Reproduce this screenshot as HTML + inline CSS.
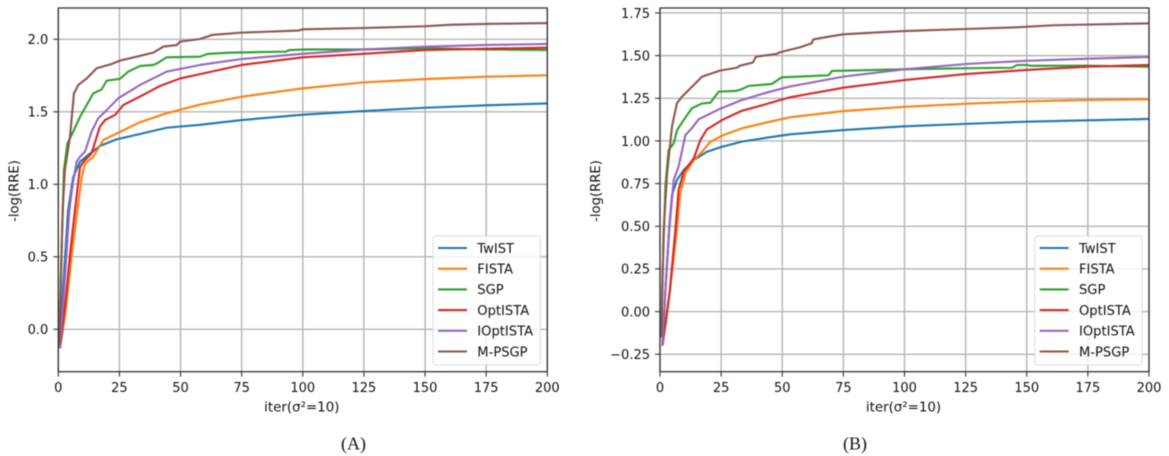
<!DOCTYPE html>
<html>
<head>
<meta charset="utf-8">
<style>
html,body{margin:0;padding:0;background:#fff;width:1169px;height:456px;overflow:hidden}
svg{display:block;filter:blur(0.5px)}
text{font-family:"DejaVu Sans","Liberation Sans",sans-serif;fill:#111}
</style>
</head>
<body>
<svg id="figure" width="1169" height="456" viewBox="0 0 1169 456" xmlns="http://www.w3.org/2000/svg"></svg>
<script>
const seriesNames = ['TwIST','FISTA','SGP','OptISTA','IOptISTA','M-PSGP'];
const seriesColors = ['#1f77b4','#ff7f0e','#2ca02c','#d62728','#9467bd','#8c564b'];
const xTickLabels = [0,25,50,75,100,125,150,175,200];
const yTickLabelsA = ['0.0','0.5','1.0','1.5','2.0'];
const yTicksA = [0,0.5,1,1.5,2];
const yTickLabelsB = ['\u22120.25','0.00','0.25','0.50','0.75','1.00','1.25','1.50','1.75'];
const yTicksB = [-0.25,0,0.25,0.5,0.75,1,1.25,1.5,1.75];

const iterA_TwIST = [0.7,2,4,6.1,8.9,13,17,23.8,33.4,44.3,58,75,100,125,150,175,200];
const valsA_TwIST = [-0.13,0.3,0.82,1.05,1.156,1.213,1.264,1.31,1.347,1.39,1.41,1.443,1.48,1.505,1.528,1.545,1.558];
const iterA_FISTA = [0.7,3,5.4,7.8,9.6,10.9,14.3,18.4,23.8,33.4,44.3,58,75,100,125,150,175,200];
const valsA_FISTA = [-0.13,0.12,0.5,0.82,1.05,1.143,1.19,1.305,1.35,1.428,1.49,1.55,1.604,1.662,1.703,1.726,1.742,1.752];
const iterA_SGP = [0.5,1,2.3,3.7,6.1,8.9,11.6,14.3,17.7,19.8,25.2,28.6,33.4,38.9,41,44.3,58,61,70,93,94.7,101.5,125,150,175,200];
const valsA_SGP = [-0.1,0.35,1.098,1.28,1.363,1.466,1.547,1.627,1.654,1.715,1.727,1.777,1.816,1.823,1.84,1.876,1.88,1.899,1.908,1.915,1.926,1.93,1.93,1.938,1.93,1.926];
const iterA_OptISTA = [0.7,3,5,6.8,8.9,10.3,13.6,17,19.1,23.2,26.6,33.4,41.6,49.8,58,75,100,125,150,175,200];
const valsA_OptISTA = [-0.13,0.2,0.55,0.82,1.12,1.156,1.213,1.397,1.443,1.478,1.547,1.605,1.678,1.73,1.76,1.823,1.876,1.9,1.926,1.935,1.942];
const iterA_IOptISTA = [0.7,2.5,4.5,5.9,7.5,8.9,10.9,13.6,16.3,19.8,24.5,33.4,44.3,58,75,100,125,150,175,200];
const valsA_IOptISTA = [-0.13,0.3,0.82,1.0,1.156,1.19,1.225,1.363,1.455,1.512,1.593,1.685,1.777,1.823,1.864,1.9,1.93,1.949,1.961,1.968];
const iterA_MPSGP = [0.5,1,1.8,2.7,4.8,6.4,8.2,11.6,15.7,21.8,25.2,32,38.9,43,48.4,49.8,58,62.8,75,98,100,125,150,160,175,200];
const valsA_MPSGP = [-0.1,0.3,0.822,1.098,1.33,1.627,1.685,1.73,1.8,1.83,1.853,1.88,1.908,1.95,1.96,1.984,2.002,2.03,2.046,2.06,2.069,2.078,2.09,2.1,2.106,2.112];

const iterB_TwIST = [1,2.2,3.8,4.9,6.9,9.7,13.8,19.2,25.4,33.5,44,53.2,75,100,125,150,175,200];
const valsB_TwIST = [-0.2,0.12,0.5,0.683,0.771,0.83,0.888,0.937,0.966,0.996,1.02,1.039,1.064,1.086,1.1,1.113,1.121,1.129];
const iterB_FISTA = [1,3,5.5,6.9,8.3,10.4,13.8,17.2,20.6,26,33.5,44,53.2,75,100,125,150,175,200];
const valsB_FISTA = [-0.2,0,0.3,0.479,0.693,0.81,0.888,0.937,0.995,1.035,1.074,1.11,1.139,1.175,1.2,1.218,1.232,1.24,1.244];
const iterB_SGP = [0.5,1,2.2,3.5,5.6,7,9.7,13,17.2,20.6,24,30.8,33.5,36.1,45.7,49.8,57.3,69,70.3,75,100,125,144,146,150,152,175,200];
const valsB_SGP = [-0.15,0.2,0.73,0.947,0.986,1.064,1.123,1.191,1.22,1.224,1.289,1.293,1.303,1.322,1.334,1.373,1.377,1.385,1.41,1.412,1.42,1.426,1.429,1.445,1.445,1.44,1.441,1.435];
const iterB_OptISTA = [1,4,6.3,7.6,9.7,13.8,16.5,19.2,25.4,33.5,39.5,53.2,75,100,125,150,175,200];
const valsB_OptISTA = [-0.2,0.12,0.479,0.712,0.82,0.898,1.005,1.068,1.123,1.177,1.2,1.256,1.312,1.357,1.392,1.416,1.435,1.445];
const iterB_IOptISTA = [1,2.5,3.8,5.6,7.6,10.4,13,15.8,24,33.5,44,53.2,75,100,125,150,175,200];
const valsB_IOptISTA = [-0.2,0.2,0.48,0.771,0.85,1.035,1.074,1.127,1.185,1.24,1.285,1.319,1.377,1.42,1.451,1.47,1.482,1.492];
const iterB_MPSGP = [0.5,1,1.5,2.9,4.9,6.9,9,13.8,17.2,24.5,31.4,32.7,37.9,39.3,47.7,49,57.3,62,62.7,69,75,88.6,100,125,146,161,200];
const valsB_MPSGP = [-0.15,0.15,0.479,0.81,1.084,1.22,1.26,1.328,1.377,1.412,1.429,1.441,1.459,1.494,1.51,1.52,1.549,1.572,1.595,1.611,1.625,1.636,1.644,1.656,1.666,1.678,1.689];

const seriesA = [[iterA_TwIST,valsA_TwIST],[iterA_FISTA,valsA_FISTA],[iterA_SGP,valsA_SGP],[iterA_OptISTA,valsA_OptISTA],[iterA_IOptISTA,valsA_IOptISTA],[iterA_MPSGP,valsA_MPSGP]];
const seriesB = [[iterB_TwIST,valsB_TwIST],[iterB_FISTA,valsB_FISTA],[iterB_SGP,valsB_SGP],[iterB_OptISTA,valsB_OptISTA],[iterB_IOptISTA,valsB_IOptISTA],[iterB_MPSGP,valsB_MPSGP]];

const NS = 'http://www.w3.org/2000/svg';
const fig = document.getElementById('figure');

function make(parent, tag, attrs, content) {
  const el = document.createElementNS(NS, tag);
  for (const k in attrs) el.setAttribute(k, attrs[k]);
  if (content !== undefined) el.textContent = content;
  parent.appendChild(el);
  return el;
}

function drawPanel(cfg) {
  const g = make(fig, 'g', {});
  
  
  const top = 8, bottom = 371.7;
  const sx = v => cfg.x0 + v * 2.445;
  const sy = v => cfg.yZero - v * cfg.yScale;
  const right = sx(200);
  const clipId = 'clip-' + cfg.id;
  const defs = make(g, 'defs', {});
  const cp = make(defs, 'clipPath', {id: clipId});
  make(cp, 'rect', {x: cfg.x0, y: top, width: right - cfg.x0, height: bottom - top});

  xTickLabels.forEach(t => {
    const gl = make(g, 'line', {x1: sx(t), x2: sx(t), y1: top, y2: bottom, stroke: '#b4b4b4', 'stroke-width': 1.4});
    
    
    const tk = make(g, 'line', {x1: sx(t), x2: sx(t), y1: bottom, y2: bottom + 5, stroke: '#333', 'stroke-width': 1.1});
    
    
    const lb = make(g, 'text', {x: sx(t), y: 391.9, 'text-anchor': 'middle', 'font-size': 13}, String(t));
    
    
  });
  cfg.yTicks.forEach((t, i) => {
    const gl = make(g, 'line', {x1: cfg.x0, x2: right, y1: sy(t), y2: sy(t), stroke: '#b4b4b4', 'stroke-width': 1.4});
    
    
    const tk = make(g, 'line', {x1: cfg.x0 - 5, x2: cfg.x0, y1: sy(t), y2: sy(t), stroke: '#333', 'stroke-width': 1.1});
    
    
    const lb = make(g, 'text', {x: cfg.x0 - 10, y: sy(t) + 4.8, 'text-anchor': 'end', 'font-size': 13}, cfg.yLabels[i]);
    
    
  });

  const lines = make(g, 'g', {'clip-path': 'url(#' + clipId + ')'});
  cfg.series.forEach((s, i) => {
    const d = s[0].map((x, j) => (j ? 'L' : 'M') + sx(x).toFixed(2) + ' ' + sy(s[1][j]).toFixed(2)).join('');
    const p = make(lines, 'path', {d: d, fill: 'none', stroke: seriesColors[i], 'stroke-width': 2.1, 'stroke-linejoin': 'round'});
    
    
  });

  const frame = make(g, 'rect', {x: cfg.x0, y: top, width: right - cfg.x0, height: bottom - top, fill: 'none', stroke: '#333', 'stroke-width': 1.3});
  
  

  const lg = make(g, 'g', {});
  
  
  const lx = right - 114.3;
  const box = make(lg, 'rect', {x: lx, y: 236, width: 107.3, height: 129, rx: 3, fill: '#fff', 'fill-opacity': 0.82, stroke: '#dcdcdc', 'stroke-width': 1});
  
  
  seriesNames.forEach((n, i) => {
    const y = 248 + i * 20.7;
    const ln = make(lg, 'line', {x1: lx + 5, x2: lx + 34, y1: y, y2: y, stroke: seriesColors[i], 'stroke-width': 2.1});
    
    
    const tx = make(lg, 'text', {x: lx + 44.3, y: y + 4.8, 'font-size': 13.1}, n);
    
    
  });

  const xl = make(g, 'text', {x: (cfg.x0 + right) / 2 - 1, y: 411.5, 'text-anchor': 'middle', 'font-size': 13.4}, 'iter(\u03C3\u00B2=10)');
  
  
  const yl = make(g, 'text', {x: 0, y: 0, 'text-anchor': 'middle', 'font-size': 13.2, transform: 'translate(' + cfg.yTitleX + ' 191) rotate(-90)'}, '-log(RRE)');
  
  
  const cap = make(g, 'text', {x: cfg.capX, y: 449.5, 'text-anchor': 'middle', 'font-size': 18, style: 'font-family:"Liberation Serif",serif;fill:#111'}, cfg.caption);
  
  
}

drawPanel({id:'a', x0:58.3, yZero:329.3, yScale:145, yTicks:yTicksA, yLabels:yTickLabelsA, series:seriesA, yTitleX:18.5, capX:353.5, caption:'(A)'});
drawPanel({id:'b', x0:660, yZero:311.6, yScale:170.65, yTicks:yTicksB, yLabels:yTickLabelsB, series:seriesB, yTitleX:600, capX:855, caption:'(B)'});
</script>
</body>
</html>
